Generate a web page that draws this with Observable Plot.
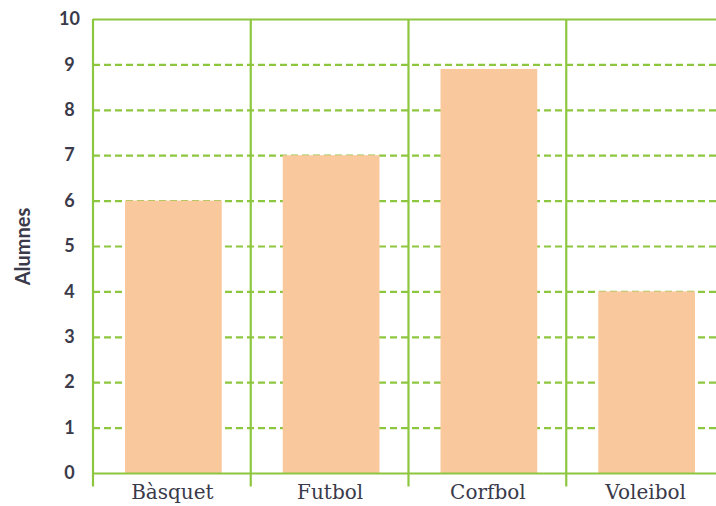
<!DOCTYPE html>
<html>
<head>
<meta charset="utf-8">
<script src="https://cdn.jsdelivr.net/npm/d3@7"></script>
<script src="https://cdn.jsdelivr.net/npm/@observablehq/plot@0.6"></script>
<style>
  html, body { margin: 0; padding: 0; background: #fff; overflow: hidden; }
</style>
</head>
<body>
<div id="chart"></div>
<script>
const sports = ["Bàsquet", "Futbol", "Corfbol", "Voleibol"];
const students = [6, 7, 8.9, 4];
const yTicks = [0, 1, 2, 3, 4, 5, 6, 7, 8, 9, 10];
const dashedGrid = [1, 2, 3, 4, 5, 6, 7, 8, 9];
const solidGrid = [0, 10];
const yLabel = "Alumnes";
const tickBelow = -0.3;

const green = "#8dc63f";
const peach = "#f9c99d";
const textColor = "#3a3a4a";

const verticalLines = (index, scales) => {
  const {x, y} = scales;
  const edges = sports.map((s) => x(s));
  edges.push(x(sports[sports.length - 1]) + x.bandwidth());
  const g = d3.create("svg:g");
  g.selectAll("line")
    .data(edges)
    .join("line")
    .attr("x1", (d) => d)
    .attr("x2", (d) => d)
    .attr("y1", y(10))
    .attr("y2", y(tickBelow))
    .attr("stroke", green)
    .attr("stroke-width", 2.2);
  return g.node();
};

const chart = Plot.plot({
  width: 730,
  height: 506,
  marginTop: 19,
  marginBottom: 33,
  marginLeft: 93,
  marginRight: 6,
  style: "max-width:none; background:#fff; overflow:visible;",
  x: {domain: sports, padding: 0, round: false, label: null},
  y: {domain: [0, 10], label: null},
  marks: [
    Plot.ruleY(dashedGrid, {stroke: green, strokeWidth: 2.2, strokeDasharray: "7,4"}),
    Plot.barY(students, {x: sports, y: (d) => d, fill: peach, insetLeft: 32, insetRight: 29}),
    Plot.ruleY(solidGrid, {stroke: green, strokeWidth: 2.2}),
    verticalLines,
    Plot.axisY(yTicks, {
      tickSize: 0, tickPadding: 24, textAnchor: "middle",
      fontSize: 18, fontWeight: "bold", fontFamily: "Lato, 'Liberation Sans', sans-serif",
      fill: textColor, label: null
    }),
    Plot.axisX({
      tickSize: 0, tickPadding: 11,
      fontSize: 20, fontFamily: "'DejaVu Serif', serif",
      fill: textColor, label: null
    }),
    Plot.text([yLabel], {
      frameAnchor: "left", textAnchor: "middle", rotate: -90, dx: -70,
      fontSize: 20, fontWeight: "bold", fontFamily: "Lato, 'Liberation Sans', sans-serif",
      letterSpacing: "0.5px",
      fill: textColor
    })
  ]
});

document.getElementById("chart").appendChild(chart);
</script>
</body>
</html>
